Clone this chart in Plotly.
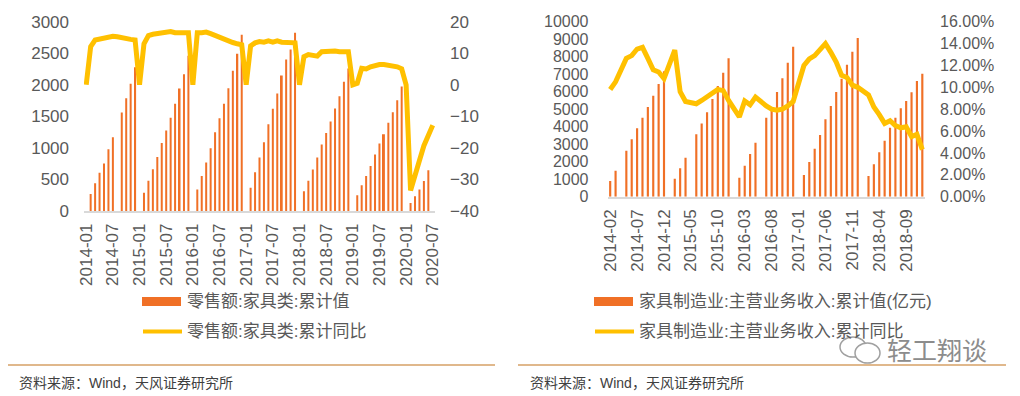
import plotly.graph_objects as go

# ---------------- Left chart data: 零售额:家具类 ----------------
l_months = [f"{y}-{m:02d}" for y in range(2014, 2021) for m in range(1, 13)][:79]
l_ticks = l_months[::6]

retail_val_2014 = [None, 270, 439, 608, 751, 979, 1169, None, 1561, 1788, 2016, 2280]
retail_val_2015 = [None, 291, 481, 661, 857, 1079, 1275, 1476, 1698, 1942, 2169, 2460]
retail_val_2016 = [None, 339, 556, 767, 995, 1249, 1471, 1698, 1947, 2222, 2492, 2794]
retail_val_2017 = [None, 370, 614, 847, 1090, 1376, 1619, 1862, 2148, 2402, 2561, 2825]
retail_val_2018 = [None, 312, 481, 656, 847, 1053, 1238, 1418, 1624, 1820, 2048, 2259]
retail_val_2019 = [None, 249, 407, 556, 714, 894, 1069, 1217, 1397, 1566, 1757, 1975]
retail_val_2020 = [None, 127, 233, 340, 476, 646, None]

retail_yoy_2014 = [0, 12.1, 14.2, 14.5, 14.7, 15.0, 15.4, 15.2, 14.8, 14.5, 14.4, 14.2]
retail_yoy_2015 = [0, 13.0, 15.6, 16.0, 16.3, 16.7, 16.7, 16.9, 16.5, 16.5, 16.3, 16.5]
retail_yoy_2016 = [0, 16.5, 16.5, 16.7, 16.2, 15.6, 15.0, 14.2, 13.8, 13.4, 13.0, 12.7]
retail_yoy_2017 = [0, 12.3, 13.3, 13.7, 13.5, 13.9, 13.5, 13.9, 13.5, 13.4, 13.3, 13.3]
retail_yoy_2018 = [0, 8.9, 9.6, 9.4, 9.1, 10.5, 10.7, 10.8, 10.7, 10.5, 10.5, 10.5]
retail_yoy_2019 = [0, 0.5, 5.2, 5.0, 5.7, 6.2, 6.4, 6.4, 6.2, 6.0, 5.7, 5.1]
retail_yoy_2020 = [0, -33.5, -29.3, -24.0, -19.3, -15.5, -12.8]

retail_val = (retail_val_2014 + retail_val_2015 + retail_val_2016 + retail_val_2017
              + retail_val_2018 + retail_val_2019 + retail_val_2020)
retail_yoy = (retail_yoy_2014 + retail_yoy_2015 + retail_yoy_2016 + retail_yoy_2017
              + retail_yoy_2018 + retail_yoy_2019 + retail_yoy_2020)

# ---------------- Right chart data: 家具制造业:主营业务收入 ----------------
r_months = [f"{y}-{m:02d}" for y in range(2014, 2019) for m in range(1, 13)][1:]
r_ticks = r_months[::5]

rev_val_2014 = [895, 1486, None, 2629, 3276, 3905, 4514, 5124, 5771, 6438, 7162]
rev_val_2015 = [None, 1029, 1619, 2229, None, 3562, 4190, 4819, 5581, 6324, 7086, 7905]
rev_val_2016 = [None, 1086, 1771, 2438, 3086, None, 4514, 5029, 5981, 6762, 7657, 8571]
rev_val_2017 = [None, 1238, 1981, 2743, 3524, 4419, 5181, 5981, 6743, 7543, 8286, 9067]
rev_val_2018 = [None, 1181, 1848, 2533, 3200, 3943, 4514, 5048, 5467, 5962, 6610, 7029]

rev_yoy_2014 = [9.8, 10.5, None, 12.65, 12.9, 13.5, 13.66, 12.65, 11.6, 11.4, 10.8]
rev_yoy_2015 = [None, 13.4, 9.6, 8.7, None, 8.5, 8.8, 9.1, 9.4, 9.8, 9.7, 8.8]
rev_yoy_2016 = [None, 7.3, 8.75, 8.4, 9.1, None, 8.3, 8.0, 7.9, 8.0, 8.3, 8.7]
rev_yoy_2017 = [None, 12.0, 12.6, 12.9, 13.4, 14.0, 13.2, 12.3, 11.1, 10.9, 10.2, 10.0]
rev_yoy_2018 = [None, 9.3, 8.2, 7.5, 6.7, 6.95, 6.5, 6.3, 6.4, 5.5, 5.7, 4.3]

rev_val = rev_val_2014 + rev_val_2015 + rev_val_2016 + rev_val_2017 + rev_val_2018
rev_yoy_pct = rev_yoy_2014 + rev_yoy_2015 + rev_yoy_2016 + rev_yoy_2017 + rev_yoy_2018
rev_yoy = [None if v is None else v / 100 for v in rev_yoy_pct]

# ---------------- Labels ----------------
left_bar_name = "零售额:家具类:累计值"
left_line_name = "零售额:家具类:累计同比"
right_bar_name = "家具制造业:主营业务收入:累计值(亿元)"
right_line_name = "家具制造业:主营业务收入:累计同比"
source_text = "资料来源：Wind，天风证券研究所"
watermark = "轻工翔谈"

BAR = "#F07026"
LINE = "#FFC000"
TXT = "#595959"
FONT = "Liberation Sans, Noto Sans CJK SC, sans-serif"
OFF = 8                      # page body margin in the browser
W, H = 1020 - OFF, 396 - OFF  # figure size so that it fills the window

fig = go.Figure()
fig.add_trace(go.Bar(x=l_months, y=retail_val, name=left_bar_name, marker_color=BAR,
                     marker_line_width=0, width=0.45, xaxis="x", yaxis="y"))
fig.add_trace(go.Scatter(x=l_months, y=retail_yoy, name=left_line_name, mode="lines",
                         line=dict(color=LINE, width=5), connectgaps=True,
                         xaxis="x", yaxis="y2"))
fig.add_trace(go.Bar(x=r_months, y=rev_val, name=right_bar_name, marker_color=BAR,
                     marker_line_width=0, width=0.4, xaxis="x3", yaxis="y3"))
fig.add_trace(go.Scatter(x=r_months, y=rev_yoy, name=right_line_name, mode="lines",
                         line=dict(color=LINE, width=5), connectgaps=True,
                         xaxis="x3", yaxis="y4"))

def px(x):
    return (x - OFF) / W

def py(y):
    return 1 - (y - OFF) / H

xcommon = dict(type="category", showgrid=False, zeroline=False, showline=True,
               linecolor="#D9D9D9", linewidth=1.5, ticks="", tickangle=-90,
               tickfont=dict(size=17, color=TXT), ticklabelstandoff=4, automargin=False)
ycommon = dict(showgrid=False, zeroline=False, showline=False, ticks="",
               tickfont=dict(size=17, color=TXT), ticklabelstandoff=14, automargin=False)

fig.update_layout(
    width=W, height=H, margin=dict(l=0, r=0, t=0, b=0, autoexpand=False),
    paper_bgcolor="white", plot_bgcolor="rgba(0,0,0,0)",
    showlegend=False, font=dict(family=FONT, color=TXT),
    xaxis=dict(xcommon, domain=[px(84), px(435)], anchor="y",
               range=[-0.5, len(l_months) - 0.5], tickvals=l_ticks, ticktext=l_ticks),
    yaxis=dict(ycommon, domain=[py(211), py(21.7)], range=[0, 3000], dtick=500, anchor="x"),
    yaxis2=dict(ycommon, overlaying="y", side="right", anchor="x",
                range=[-40, 20], dtick=10),
    xaxis3=dict(xcommon, domain=[px(607.5), px(925)], anchor="y3",
                range=[-0.5, len(r_months) - 0.5], tickvals=r_ticks, ticktext=r_ticks),
    yaxis3=dict(ycommon, domain=[py(196.7), py(21.7)], range=[0, 10000], dtick=1000,
                tickformat="d", anchor="x3", tickfont=dict(size=16, color=TXT),
                ticklabelstandoff=18),
    yaxis4=dict(ycommon, overlaying="y3", side="right", anchor="x3",
                range=[0, 0.16], dtick=0.02, tickformat=".2%",
                tickfont=dict(size=16, color=TXT)),
)

shapes = []
annotations = []

def legend_items(x0, names):
    # bar key
    shapes.append(dict(type="rect", xref="paper", yref="paper", x0=px(x0), x1=px(x0 + 39),
                       y0=py(306), y1=py(297), fillcolor=BAR, line_width=0))
    # line key
    shapes.append(dict(type="line", xref="paper", yref="paper", x0=px(x0 + 1), x1=px(x0 + 40),
                       y0=py(331.5), y1=py(331.5), line=dict(color=LINE, width=4)))
    for name, yy in zip(names, (301, 331)):
        annotations.append(dict(text=name, xref="paper", yref="paper", x=px(x0 + 43), y=py(yy),
                                xanchor="left", yanchor="middle", showarrow=False,
                                font=dict(size=17, color=TXT)))

legend_items(142, [left_bar_name, left_line_name])
legend_items(594, [right_bar_name, right_line_name])

# separators
for x0, x1 in ((8, 495), (518, 1006)):
    shapes.append(dict(type="line", xref="paper", yref="paper", x0=px(x0), x1=px(x1),
                       y0=py(365), y1=py(365), line=dict(color="#D6A066", width=1.5)))

# source texts
for x0 in (17, 528):
    annotations.append(dict(text=source_text, xref="paper", yref="paper", x=px(x0), y=py(383),
                            xanchor="left", yanchor="middle", showarrow=False,
                            font=dict(size=14, color="#404040")))

# watermark icon and text
shapes.append(dict(type="circle", xref="paper", yref="paper", x0=px(840), x1=px(866),
                   y0=py(357), y1=py(337), line=dict(color="#A0A0A0", width=1.5),
                   fillcolor="white"))
shapes.append(dict(type="circle", xref="paper", yref="paper", x0=px(855), x1=px(880),
                   y0=py(363), y1=py(343), line=dict(color="#A0A0A0", width=1.5),
                   fillcolor="white"))
annotations.append(dict(text=watermark, xref="paper", yref="paper", x=px(885), y=py(351),
                        xanchor="left", yanchor="middle", showarrow=False,
                        font=dict(size=25, color="#8C8C8C")))

fig.update_layout(shapes=shapes, annotations=annotations)
fig.write_html("out.html")
